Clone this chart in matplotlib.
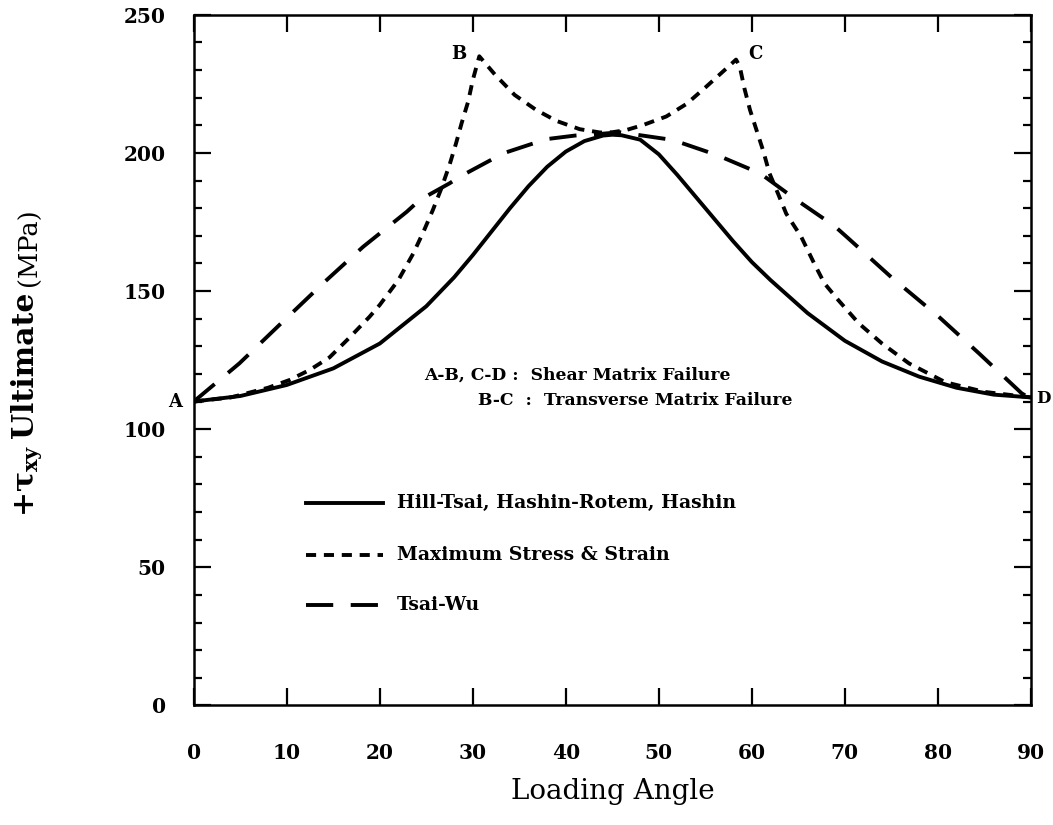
"""
Ultimate positive shear stress vs loading angle for several failure criteria.
"""
import matplotlib
matplotlib.use("Agg")
import matplotlib.pyplot as plt
import matplotlib.ticker as mticker

plt.rcParams["font.family"] = "DejaVu Serif"
plt.rcParams["mathtext.fontset"] = "dejavuserif"

# Hill-Tsai, Hashin-Rotem, Hashin (solid)
ANG_HILL = [0, 5, 10, 15, 20, 25, 28, 30, 32, 34, 36, 38, 40, 42, 44, 45,
            46, 48, 50, 52, 54, 56, 58, 60, 62, 64, 66, 70, 74, 78, 82, 86, 90]
TAU_HILL = [110, 112, 116, 122, 131, 144.5, 155, 163, 171.5, 180, 188, 195, 200.5,
            204.3, 206.3, 206.6, 206.4, 204.8, 199.5, 192, 184, 176, 168, 160.5,
            154, 148, 142, 132, 124.5, 119, 115, 112.5, 111.5]

# Maximum stress & strain (short dashes)
ANG_MAX = [0, 4, 8, 10.3, 12.5, 14.6, 16.7, 18.9, 20, 22, 23.6, 24.7, 25.7, 26.6,
           27.5, 28.2, 28.8, 29.5, 30.0, 30.7, 32.4, 34.5, 36.8, 39.0, 41.5, 43.7,
           45, 46.5, 48.3, 50.8, 53.0, 55.1, 57.3, 58.3, 58.7, 59.2, 59.8, 60.5,
           61.2, 61.9, 62.8, 63.7, 65.3, 66.7, 67.8, 69.3, 71.5, 74.0, 76.9, 80.8,
           85, 90]
TAU_MAX = [110, 111.5, 115, 117.8, 121.5, 126, 133, 140.7, 145, 154, 163.6, 171.5,
           179.3, 187, 195.7, 203.5, 210.8, 218.6, 226.4, 235, 228.3, 221, 215.6,
           211.6, 208.6, 207.4, 207.5, 208.3, 210.1, 213.2, 217.8, 224, 230.7, 233.8,
           231.3, 223.4, 215.6, 208.3, 201, 192.6, 185.4, 178, 169.7, 160, 152.8,
           146.7, 138.3, 131, 123.8, 117, 113.5, 111.5]

# Tsai-Wu (long dashes)
ANG_TW = [0, 4.9, 9.2, 13.9, 18.2, 22.9, 24.3, 27.5, 28.6, 33.3, 37.9, 41, 43.7,
          45.8, 51.5, 56.2, 60.9, 64.8, 68.9, 70.4, 75, 80.1, 84.4, 89, 90]
TAU_TW = [110, 123.8, 137.7, 152.8, 166, 178.7, 183, 189, 191.4, 199.9, 205, 206.3,
          206.9, 207.5, 204.7, 199.3, 192.6, 183, 173.5, 169, 155, 140.7, 127.5,
          113, 111]

XTICKS = [0, 10, 20, 30, 40, 50, 60, 70, 80, 90]
YTICKS = [0, 50, 100, 150, 200, 250]

fig = plt.figure(figsize=(10.53, 8.25), dpi=100)
ax = fig.add_axes([0.184, 0.145, 0.795, 0.837])

lw = 2.8
ax.plot(ANG_HILL, TAU_HILL, color="black", lw=lw, solid_capstyle="round",
        solid_joinstyle="round")
ax.plot(ANG_MAX, TAU_MAX, color="black", lw=lw, dashes=(2.6, 2.0))
ax.plot(ANG_TW, TAU_TW, color="black", lw=lw, dashes=(7, 4.5))

ax.set_xlim(0, 90)
ax.set_ylim(0, 250)
ax.set_xticks(XTICKS)
ax.set_yticks(YTICKS)
ax.yaxis.set_minor_locator(mticker.MultipleLocator(10))

ax.tick_params(axis="both", which="both", direction="in", top=True, right=True,
               width=1.6, labelsize=14.5)
ax.tick_params(axis="both", which="major", length=12)
ax.tick_params(axis="y", which="minor", length=6)
ax.tick_params(axis="x", which="major", pad=27)
ax.tick_params(axis="y", which="major", pad=20)
for lab in ax.get_xticklabels() + ax.get_yticklabels():
    lab.set_fontweight("bold")
for sp in ax.spines.values():
    sp.set_linewidth(1.8)

ax.set_xlabel("Loading Angle", fontsize=20, labelpad=11)

# y label built from three pieces (bold symbol + bold word + plain unit)
yl = dict(rotation=90, rotation_mode="anchor", ha="center", va="baseline")
fig.text(34 / 1053, 1 - 481 / 825, r"$\mathbf{+\tau_{xy}}$", fontsize=21.5, **yl)
fig.text(33 / 1053, 1 - 365 / 825, "Ultimate", fontsize=21.5, fontweight="bold", **yl)
fig.text(37 / 1053, 1 - 247 / 825, "(MPa)", fontsize=18.5, **yl)

# point labels
pt = dict(fontsize=13, fontweight="bold", va="center")
ax.text(-1.2, 110, "A", ha="right", clip_on=False, **pt)
ax.text(29.3, 236, "B", ha="right", **pt)
ax.text(59.6, 236, "C", ha="left", **pt)
ax.text(90.6, 111, "D", ha="left", clip_on=False, fontsize=12, fontweight="bold",
        va="center")

# failure-mode notes
note = dict(fontsize=12.3, fontweight="bold", va="center", ha="left")
ax.text(24.8, 119.6, "A-B, C-D :  Shear Matrix Failure", **note)
ax.text(30.6, 110.5, "B-C  :  Transverse Matrix Failure", **note)

# hand-drawn key
key_x = [12.1, 20.3]
ax.plot(key_x, [73.2, 73.2], color="black", lw=lw)
ax.plot(key_x, [54.3, 54.3], color="black", lw=lw, dashes=(2.6, 2.0))
ax.plot(key_x, [36.2, 36.2], color="black", lw=lw, dashes=(7, 4.5))
key = dict(fontsize=13.6, fontweight="bold", va="center", ha="left")
ax.text(21.8, 73.2, "Hill-Tsai, Hashin-Rotem, Hashin", **key)
ax.text(21.8, 54.3, "Maximum Stress & Strain", **key)
ax.text(21.8, 36.2, "Tsai-Wu", **key)

fig.savefig("out.png", dpi=100)
